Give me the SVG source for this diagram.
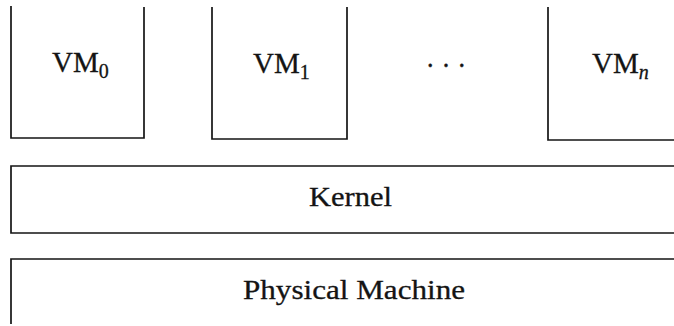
<svg xmlns="http://www.w3.org/2000/svg" width="674" height="326" viewBox="0 0 674 326">
<style>
  .box { fill: none; stroke: #141414; stroke-width: 1.7; stroke-linejoin: miter; }
  .lbl { font-family: "Liberation Serif", "DejaVu Serif", serif; font-size: 27px; fill: #141414; stroke: #141414; stroke-width: 0.3; }
  .vm { font-size: 29px; }
  .sub { font-size: 20px; }
  .subi { font-size: 20px; font-style: italic; }
</style>
<rect width="674" height="326" fill="#ffffff"/>
<g id="vm0">
  <path class="box" d="M11,6 V138 H144 V7"/>
  <text class="lbl vm" x="52" y="72">VM<tspan class="sub" dy="6">0</tspan></text>
</g>
<g id="vm1">
  <path class="box" d="M212,7 V139 H347 V7"/>
  <text class="lbl vm" x="253" y="73">VM<tspan class="sub" dy="6">1</tspan></text>
</g>
<g id="dots">
  <text class="lbl" x="446" y="75" text-anchor="middle">· · ·</text>
</g>
<g id="vmn">
  <path class="box" d="M548,7 V140 H680"/>
  <text class="lbl vm" x="592" y="73">VM<tspan class="subi" dy="6">n</tspan></text>
</g>
<g id="kernel">
  <path class="box" d="M680,166 H11 V233 H680"/>
  <text class="lbl" x="309" y="206" textLength="83" lengthAdjust="spacingAndGlyphs">Kernel</text>
</g>
<g id="physical-machine">
  <path class="box" d="M11,324 V259 H680"/>
  <text class="lbl" x="243" y="299" textLength="222" lengthAdjust="spacingAndGlyphs">Physical Machine</text>
</g>
<g id="connectors"/>
</svg>
